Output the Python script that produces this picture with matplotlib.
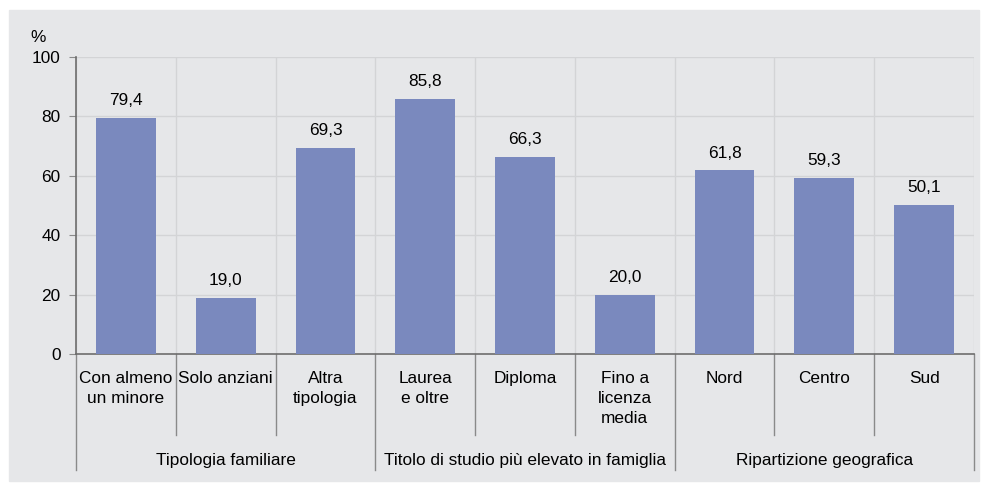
import matplotlib.pyplot as plt
from matplotlib.patches import Rectangle

plt.rcParams['font.family'] = ['Liberation Sans', 'DejaVu Sans']

# data
categories = ["Con almeno\nun minore", "Solo anziani", "Altra\ntipologia",
              "Laurea\ne oltre", "Diploma", "Fino a\nlicenza\nmedia",
              "Nord", "Centro", "Sud"]
values = [79.4, 19.0, 69.3, 85.8, 66.3, 20.0, 61.8, 59.3, 50.1]
groups = ["Tipologia familiare", "Titolo di studio più elevato in famiglia",
          "Ripartizione geografica"]
group_sizes = [3, 3, 3]
yticks = [0, 20, 40, 60, 80, 100]

bg = "#e6e7e9"
grid_col = "#d3d4d6"
bar_col = "#7a89be"
line_col = "#8a8a8a"
fs = 12.4

W, H = 983, 484
fig = plt.figure(figsize=(W / 100, H / 100), dpi=100)
fig.patches.append(Rectangle((9 / W, 1 - 481 / H), 970 / W, 471 / H,
                             transform=fig.transFigure, color=bg, zorder=-5))

ax = fig.add_axes([76 / W, 1 - 354 / H, (974 - 76) / W, (354 - 57) / H])
ax.set_zorder(2)
ax.set_facecolor(bg)

n = len(categories)
x = list(range(n))
ax.bar(x, values, width=0.6, color=bar_col, zorder=3)
for xi, v in zip(x, values):
    ax.annotate(f"{v:.1f}".replace(".", ","), (xi, v), xytext=(0, 7),
                textcoords="offset points", ha="center", va="bottom", fontsize=fs)

ax.set_xlim(-0.5, n - 0.5)
ax.set_ylim(0, 100)
ax.set_yticks(yticks)
ax.set_yticklabels([str(t) for t in yticks], fontsize=fs)
ax.tick_params(axis="y", length=5, color=line_col, pad=6)
ax.set_xticks([])
for b in range(n + 1):
    ax.axvline(b - 0.5, color=grid_col, lw=1, zorder=1)
for t in yticks[1:]:
    ax.axhline(t, color=grid_col, lw=1, zorder=1)

for s in ["top", "right"]:
    ax.spines[s].set_visible(False)
ax.spines["left"].set_color("#6d6d6d")
ax.spines["left"].set_linewidth(1.2)
ax.spines["bottom"].set_color("#6d6d6d")
ax.spines["bottom"].set_linewidth(1.2)

ax.text(-0.042, 1.067, "%", transform=ax.transAxes, fontsize=fs, ha="center", va="center")

tr = ax.get_xaxis_transform()
for xi, c in zip(x, categories):
    ax.text(xi, -0.058, c, transform=tr, ha="center", va="top", fontsize=fs,
            linespacing=1.42, clip_on=False)

# separators below the axis
start = 0
bounds = [-0.5]
for g, size in zip(groups, group_sizes):
    mid = start + (size - 1) / 2
    ax.text(mid, -0.357, g, transform=tr, ha="center", va="center", fontsize=fs)
    start += size
    bounds.append(start - 0.5)
for b in range(n + 1):
    pos = b - 0.5
    low = -0.39 if pos in bounds else -0.273
    ax.plot([pos, pos], [0, low], transform=tr, color=line_col, lw=1, clip_on=False)

fig.savefig("out.png", dpi=100)
